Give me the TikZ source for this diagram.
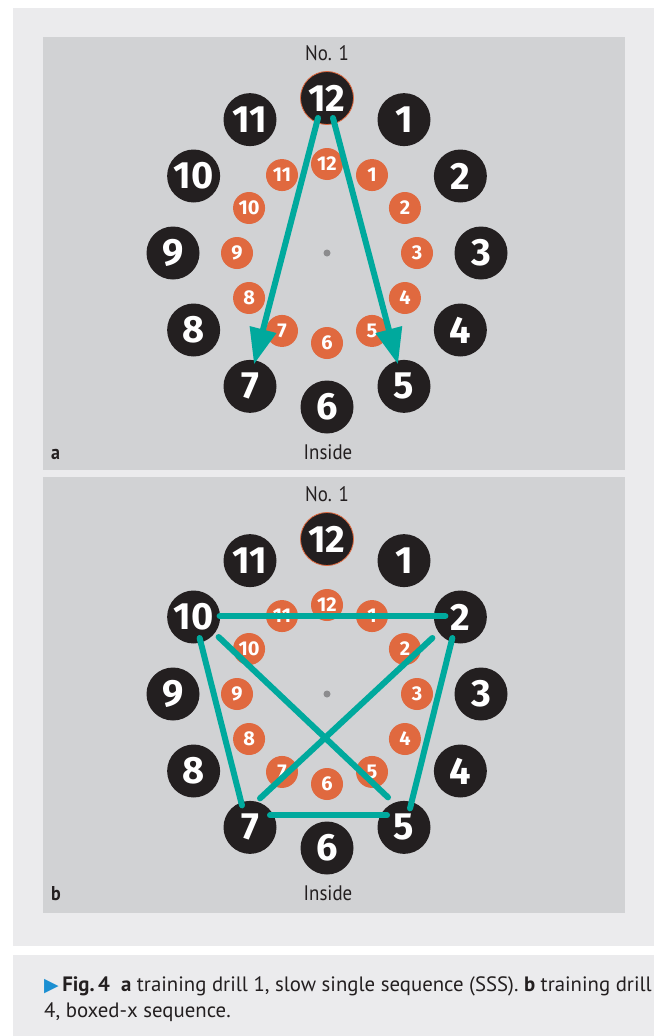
\documentclass[tikz,border=0pt]{standalone}
\usepackage{fontspec}
\setmainfont{PT Sans}[FakeStretch=0.9]
\newfontfamily\capfont{PT Sans}
\newfontfamily\numfont{Fira Sans}
\newfontfamily\symfont{DejaVu Sans}
\usetikzlibrary{arrows.meta,calc}
\definecolor{outerbg}{HTML}{EBEBED}
\definecolor{panelbg}{HTML}{D1D2D4}
\definecolor{darkc}{HTML}{231F20}
\definecolor{orangec}{HTML}{E0693F}
\definecolor{tealc}{HTML}{00A99D}
\definecolor{dotc}{HTML}{8C8C8E}
\definecolor{capblue}{HTML}{1B8FD2}
\tikzset{
  outerdot/.style={circle,fill=darkc,minimum size=53pt,inner sep=0pt,text=white,font=\numfont\bfseries\fontsize{38}{38}\selectfont},
  innerdot/.style={circle,fill=orangec,minimum size=32pt,inner sep=0pt,text=white,font=\numfont\bfseries\fontsize{20}{20}\selectfont},
  tealline/.style={draw=tealc,line width=6pt,line cap=round},
  label/.style={text=darkc,font=\fontsize{21}{24}\selectfont,inner sep=0pt,anchor=base},
  plabel/.style={text=darkc,font=\bfseries\fontsize{20}{24}\selectfont,inner sep=0pt,anchor=base west}
}
\newcommand{\clockface}[1]{%
  \foreach \k in {1,...,11}{
    \node[outerdot] (#1-o\k) at ({327+154*sin(30*\k)},{253-154*cos(30*\k)}) {\k};
    \node[innerdot] (#1-i\k) at ({327+90*sin(30*\k)},{253-90*cos(30*\k)}) {\k};
  }
  \node[outerdot,draw=orangec,line width=0.8pt] (#1-o12) at (327,98) {12};
  \node[innerdot] (#1-i12) at (327,164) {12};
  \node[circle,fill=dotc,minimum size=7pt,inner sep=0pt] (#1-c) at (327,253) {};
  \node[label] (#1-no) at (327,60.5) {No. 1};
  \node[label] (#1-in) at (328,459) {Inside};
}
\begin{document}
\begin{tikzpicture}[x=1pt,y=-1pt]
\useasboundingbox (0,0) rectangle (654,1036);
\fill[white] (0,0) rectangle (654,1036);
\fill[outerbg] (13,8) rectangle (654,946);
\fill[outerbg] (13,955) rectangle (654,1036);
\fill[panelbg] (43,37) rectangle (625,470);
\fill[panelbg] (43,477) rectangle (625,913);
% panel a
\clockface{a}
\node[plabel] (a-lab) at (51,459) {a};
\draw[tealline,-{Triangle[length=36pt,width=26pt]}] ($(a-o12)+(-9,20)$) -- ($(a-o7)+(4,-22)$);
\draw[tealline,-{Triangle[length=36pt,width=26pt]}] ($(a-o12)+(6,20)$) -- ($(a-o5)+(-6,-22)$);
% panel b
\begin{scope}[shift={(0,441)}]
\clockface{b}
\node[plabel] (b-lab) at (51,459) {b};
\end{scope}
\draw[tealline] ($(b-o10)+(26,-1)$) -- ($(b-o2)+(-15,-1)$);
\draw[tealline] ($(b-o10)+(6,21)$) -- ($(b-o7)+(-8,-22)$);
\draw[tealline] ($(b-o2)+(-8,21)$) -- ($(b-o5)+(6,-19)$);
\draw[tealline] ($(b-o10)+(25,20)$) -- ($(b-o5)+(-16,-30)$);
\draw[tealline] ($(b-o2)+(-28,21)$) -- ($(b-o7)+(10,-29)$);
\draw[tealline] ($(b-o7)+(20,-12)$) -- ($(b-o5)+(-17,-12)$);
% caption
\node[anchor=base west,align=left,text=darkc,font=\capfont\fontsize{20.8}{26}\selectfont,inner sep=0pt] (cap) at (44,1017)
{{\symfont\color{capblue}\fontsize{19}{19}\selectfont ▶}\,\textbf{Fig.\,4}\ \ \textbf{a} training drill 1, slow single sequence (SSS). \textbf{b} training drill\\4, boxed-x sequence.};
\end{tikzpicture}
\end{document}
